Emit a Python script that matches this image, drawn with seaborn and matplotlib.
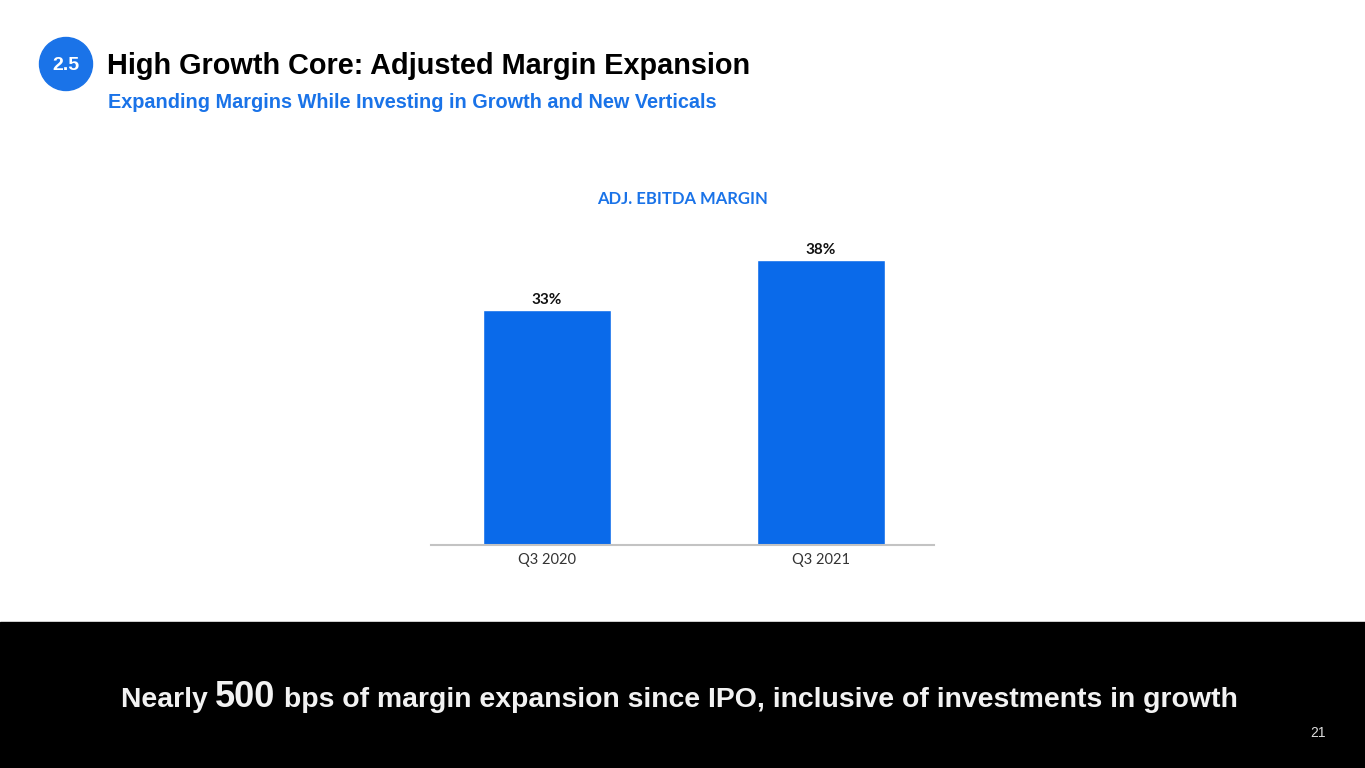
import seaborn as sns
from matplotlib import pyplot as plt
from matplotlib.patches import Circle, Rectangle

# data
quarters = ["Q3 2020", "Q3 2021"]
margins = [33, 38]
bar_labels = ["33%", "38%"]

BLUE = "#0a6aea"
W, H = 1365, 768

sns.set_style("white")
plt.rcParams['font.family'] = ['Liberation Sans', 'DejaVu Sans']

fig = plt.figure(figsize=(W / 100, H / 100), dpi=100)

# black band at the bottom
fig.add_artist(Rectangle((0, 0), 1, 146 / H, transform=fig.transFigure,
                         color="black", zorder=0))

# section badge + headings
fig.add_artist(Circle((66 / 100, (H - 64) / 100), 0.265, transform=fig.dpi_scale_trans,
                      color="#1a73e8", zorder=2))
fig.text(66 / W, 1 - 65 / H, "2.5", color="white", fontsize=14, fontweight="bold",
         ha="center", va="center", zorder=3)
fig.text(107 / W, 1 - 66 / H, "High Growth Core: Adjusted Margin Expansion",
         fontsize=20.8, fontweight="bold", color="black", va="center")
fig.text(108 / W, 1 - 102 / H, "Expanding Margins While Investing in Growth and New Verticals",
         fontsize=14.3, fontweight="bold", color="#1a73e8", va="center")

# chart
ax = fig.add_axes([431 / W, (H - 545) / H, 503 / W, 330 / H])
sns.barplot(x=quarters, y=margins, color=BLUE, width=0.47, saturation=1, ax=ax)
ax.set_xlim(-0.423, 1.412)
ax.set_ylim(9.5, 42.5)
ax.set_yticks([])
ax.set_xlabel("")
ax.set_ylabel("")
for s in ["top", "left", "right"]:
    ax.spines[s].set_visible(False)
ax.spines["bottom"].set_color("#c3c3c3")
ax.spines["bottom"].set_linewidth(1.5)
ax.tick_params(axis="x", length=0, pad=6, labelsize=10.5, labelcolor="#333333")
for t in ax.get_xticklabels():
    t.set_family(["Lato", "DejaVu Sans"])
ax.bar_label(ax.containers[0], labels=bar_labels, padding=2, fontsize=11,
             fontweight="bold", color="#111111", family=["Lato", "DejaVu Sans"])

fig.text(683 / W, 1 - 199 / H, "ADJ. EBITDA MARGIN", color="#1a73e8", fontsize=12,
         fontweight="bold", ha="center", va="center", family=["Lato", "DejaVu Sans"])

# bottom message, pieces laid out side by side and centred
pieces = [("Nearly ", 20.4, "bold"), ("500", 26, "bold"),
          (" bps of margin expansion since IPO, inclusive of investments in growth", 20.4, "bold")]
renderer = fig.canvas.get_renderer()
base_y = 1 - 707 / H
texts = []
for s, size, weight in pieces:
    texts.append(fig.text(0, base_y, s, fontsize=size, fontweight=weight, color="#f2f2f2",
                          va="baseline", ha="left"))
widths = [t.get_window_extent(renderer).width for t in texts]
x = (679 - sum(widths) / 2)
for t, w in zip(texts, widths):
    t.set_x(x / W)
    x += w

fig.text(1318 / W, 1 - 733 / H, "21", fontsize=10, color="#dddddd", ha="center", va="center")

fig.savefig("out.png", dpi=100, facecolor="white")
